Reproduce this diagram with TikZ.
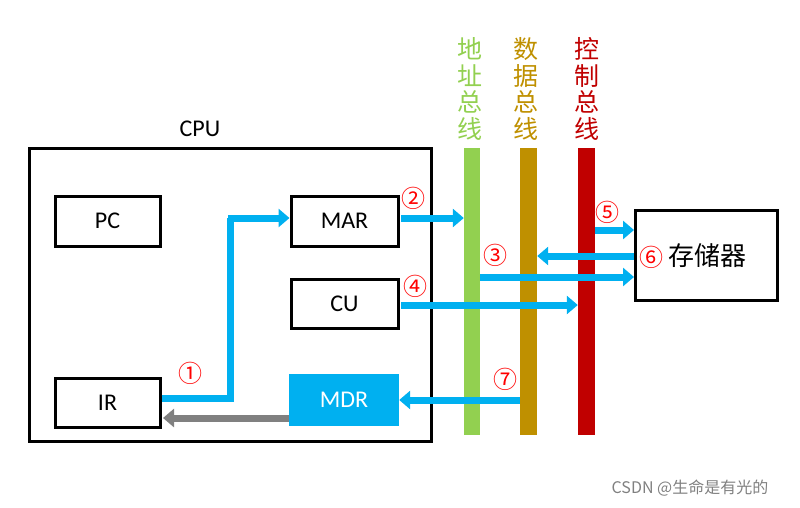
\documentclass[tikz,border=0pt]{standalone}
\usepackage{fontspec}
\setmainfont{Carlito}
\newfontfamily\cjk{Noto Sans CJK SC}
\usetikzlibrary{arrows.meta}
\definecolor{cy}{RGB}{0,176,240}
\definecolor{gbus}{RGB}{146,208,80}
\definecolor{dbus}{RGB}{191,144,0}
\definecolor{cbus}{RGB}{192,0,0}
\begin{document}
\begin{tikzpicture}[x=1pt,y=-1pt,
  box/.style={draw=black,line width=3pt,font=\fontsize{24}{28}\selectfont},
  arr/.style={cy,line width=7pt,-{Triangle[length=11pt,width=18pt]}},
  num/.style={red,font=\cjk\fontsize{24}{28}\selectfont},
  lab/.style={font=\cjk\fontsize{25}{26.5}\selectfont,align=center}]
\useasboundingbox (0,0) rectangle (800,507);
\draw[line width=3pt] (29,148) rectangle (431,441);
\node[font=\fontsize{24}{28}\selectfont] (cpu) at (200,129) {CPU};
\node[box,minimum width=105pt,minimum height=50pt] (pc) at (107.5,221) {PC};
\node[box,minimum width=107pt,minimum height=50pt] (mar) at (344.5,221) {MAR};
\node[box,minimum width=107pt,minimum height=49pt] (cu) at (344.5,303.5) {CU};
\node[box,minimum width=105pt,minimum height=49pt] (ir) at (107.5,402.5) {IR};
\node[fill=cy,text=white,minimum width=110pt,minimum height=52pt,font=\fontsize{24}{28}\selectfont] (mdr) at (344,400) {MDR};
\node[box,minimum width=142pt,minimum height=90pt,anchor=north west] (mem) at (634,209) {};
\node[font=\cjk\fontsize{26}{28}\selectfont] (memt) at (707,256) {存储器};
\node[fill=gbus,minimum width=16pt,minimum height=287pt,inner sep=0pt,anchor=north] (ab) at (472,148) {};
\node[fill=dbus,minimum width=17pt,minimum height=287pt,inner sep=0pt,anchor=north] (db) at (528.5,148) {};
\node[fill=cbus,minimum width=17pt,minimum height=287pt,inner sep=0pt,anchor=north] (cb) at (586.5,148) {};
\node[lab,gbus] (abl) at (470,89) {地\\址\\总\\线};
\node[lab,dbus] (dbl) at (526,89) {数\\据\\总\\线};
\node[lab,cbus] (cbl) at (587,89) {控\\制\\总\\线};
\coordinate (c1) at (230,398);
\coordinate (c2) at (230,218);
\draw[cy,line width=7pt] (ir.east |- c1) -- (c1) -- (c2);
\draw[arr] (228,218) -- (mar.west |- c2);
\draw[arr,gray] (mdr.west |- 0,418) -- ([xshift=1.5pt]ir.east |- 0,418);
\draw[arr] ([xshift=1.5pt]mar.east |- 0,218) -- (ab.west |- 0,218);
\draw[arr] (ab.east |- 0,277) -- (mem.west |- 0,277);
\draw[arr] ([xshift=1.5pt]cu.east |- 0,305) -- (cb.west |- 0,305);
\draw[arr] (cb.east |- 0,230) -- (mem.west |- 0,230);
\draw[arr] (mem.west |- 0,256) -- (db.east |- 0,256);
\draw[arr] (db.west |- 0,400) -- (mdr.east |- 0,400);
\node[num] (n1) at (190,373) {①};
\node[num] (n2) at (413,198) {②};
\node[num] (n3) at (495,255) {③};
\node[num] (n4) at (415,286) {④};
\node[num] (n5) at (607,212) {⑤};
\node[num] (n6) at (651,257) {⑥};
\node[num] (n7) at (505,379) {⑦};
\node[gray,font=\cjk\fontsize{16}{18}\selectfont] (wm) at (690,488) {CSDN @生命是有光的};
\end{tikzpicture}
\end{document}
